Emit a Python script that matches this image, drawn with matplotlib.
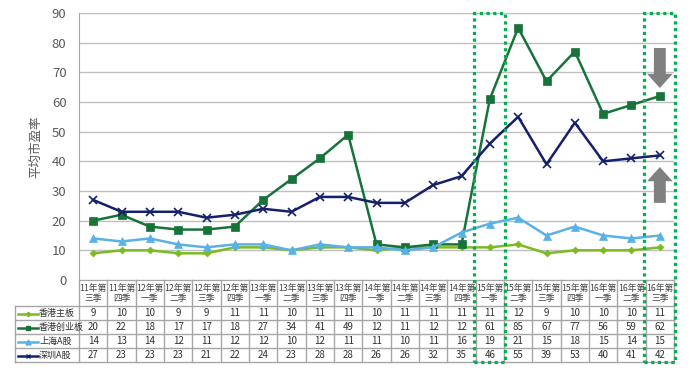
import matplotlib
matplotlib.use("Agg")
import matplotlib.pyplot as plt
from matplotlib.patches import Rectangle, FancyArrow
from matplotlib.lines import Line2D
import matplotlib.transforms as mtransforms

plt.rcParams['font.family'] = ['Noto Sans CJK SC', 'DejaVu Sans']

quarters_top = ["11年第", "11年第", "12年第", "12年第", "12年第", "12年第", "13年第", "13年第", "13年第", "13年第",
                "14年第", "14年第", "14年第", "14年第", "15年第", "15年第", "15年第", "15年第", "16年第", "16年第", "16年第"]
quarters_bot = ["三季", "四季", "一季", "二季", "三季", "四季", "一季", "二季", "三季", "四季",
                "一季", "二季", "三季", "四季", "一季", "二季", "三季", "四季", "一季", "二季", "三季"]

hk_main = [9, 10, 10, 9, 9, 11, 11, 10, 11, 11, 10, 11, 11, 11, 11, 12, 9, 10, 10, 10, 11]
hk_gem = [20, 22, 18, 17, 17, 18, 27, 34, 41, 49, 12, 11, 12, 12, 61, 85, 67, 77, 56, 59, 62]
sh_a = [14, 13, 14, 12, 11, 12, 12, 10, 12, 11, 11, 10, 11, 16, 19, 21, 15, 18, 15, 14, 15]
sz_a = [27, 23, 23, 23, 21, 22, 24, 23, 28, 28, 26, 26, 32, 35, 46, 55, 39, 53, 40, 41, 42]

series_names = ["香港主板", "香港创业板", "上海A股", "深圳A股"]
series_vals = [hk_main, hk_gem, sh_a, sz_a]
colors = ['#7DBA22', '#17733A', '#5AB1E6', '#15206B']
markers = ['D', 's', '^', 'x']
msizes = [3.5, 5.5, 5.5, 5.5]

highlight_idx = [14, 20]

fig = plt.figure(figsize=(7, 3.76), dpi=100)
L, R, T, B = 79, 674, 13, 280
ax = fig.add_axes([L / 700, (376 - B) / 376, (R - L) / 700, (B - T) / 376])

n = len(hk_main)
xs = list(range(n))
for name, vals, c, m, ms in zip(series_names, series_vals, colors, markers, msizes):
    ax.plot(xs, vals, color=c, lw=1.8, marker=m, ms=ms, mew=1.2 if m == 'x' else 0.5,
            mec=c, mfc=c, zorder=3)

ax.set_xlim(-0.5, n - 0.5)
ax.set_ylim(0, 90)
ax.set_yticks(range(0, 91, 10))
ax.yaxis.grid(True, color='#BFBFBF', lw=1)
ax.set_axisbelow(True)
ax.tick_params(axis='y', length=0, pad=9, labelsize=9.5, labelcolor='#595959')
ax.tick_params(axis='x', length=0, labelbottom=False)
for s in ['top', 'right']:
    ax.spines[s].set_visible(False)
ax.spines['left'].set_color('#A6A6A6')
ax.spines['bottom'].set_color('#A6A6A6')
ax.set_ylabel("平均市盈率", fontsize=9, color='#595959', labelpad=7)

# table
def ay(px):
    return (B - px) / (B - T)

def axx(px):
    return (px - L) / (R - L)

blend = mtransforms.blended_transform_factory(ax.transData, ax.transAxes)
grid_c = '#A6A6A6'
row_lines = [306, 320, 334, 348, 362]
for yp in row_lines:
    ax.add_line(Line2D([axx(15), 1], [ay(yp), ay(yp)], transform=ax.transAxes,
                       color=grid_c, lw=1, clip_on=False))
for i in range(n + 1):
    ax.add_line(Line2D([i - 0.5, i - 0.5], [0, ay(362)], transform=blend,
                       color=grid_c, lw=1, clip_on=False))
ax.add_line(Line2D([axx(15), axx(15)], [ay(306), ay(362)], transform=ax.transAxes,
                   color=grid_c, lw=1, clip_on=False))

for i in range(n):
    ax.text(i, ay(288), quarters_top[i], transform=blend, ha='center', va='center',
            fontsize=6.3, color='#404040', clip_on=False)
    ax.text(i, ay(299), quarters_bot[i], transform=blend, ha='center', va='center',
            fontsize=6.3, color='#404040', clip_on=False)

row_centers = [313.5, 327.5, 341.5, 355.5]
for r, (name, vals, c, m, ms) in enumerate(zip(series_names, series_vals, colors, markers, msizes)):
    yc = ay(row_centers[r])
    for i, v in enumerate(vals):
        ax.text(i, yc, str(v), transform=blend, ha='center', va='center',
                fontsize=7, color='#303030', clip_on=False)
    ax.add_line(Line2D([axx(18), axx(38)], [yc, yc], transform=ax.transAxes, color=c, lw=1.8,
                       clip_on=False))
    ax.add_line(Line2D([axx(28)], [yc], transform=ax.transAxes, color=c, marker=m,
                       ms=ms * 0.65, mec=c, mfc=c, mew=1.0, clip_on=False))
    ax.text(axx(39), yc, name, transform=ax.transAxes, ha='left', va='center',
            fontsize=6.5, color='#303030', clip_on=False)

for hi in highlight_idx:
    x0 = hi - 0.55
    rect = Rectangle((x0, ay(362)), 1.1, 1 - ay(362), transform=blend, fill=False,
                     edgecolor='#00B050', lw=2.3, linestyle=(0, (1, 1.1)), clip_on=False, zorder=5)
    ax.add_patch(rect)

last = n - 1
ax.add_patch(FancyArrow(last, 78.2, 0, -13.5, width=0.42, head_width=0.9, head_length=4.8,
                        length_includes_head=True, color='#808080', lw=0, zorder=4))
ax.add_patch(FancyArrow(last, 26.0, 0, 12.1, width=0.42, head_width=0.9, head_length=4.8,
                        length_includes_head=True, color='#808080', lw=0, zorder=4))

fig.savefig("out.png", dpi=100)
